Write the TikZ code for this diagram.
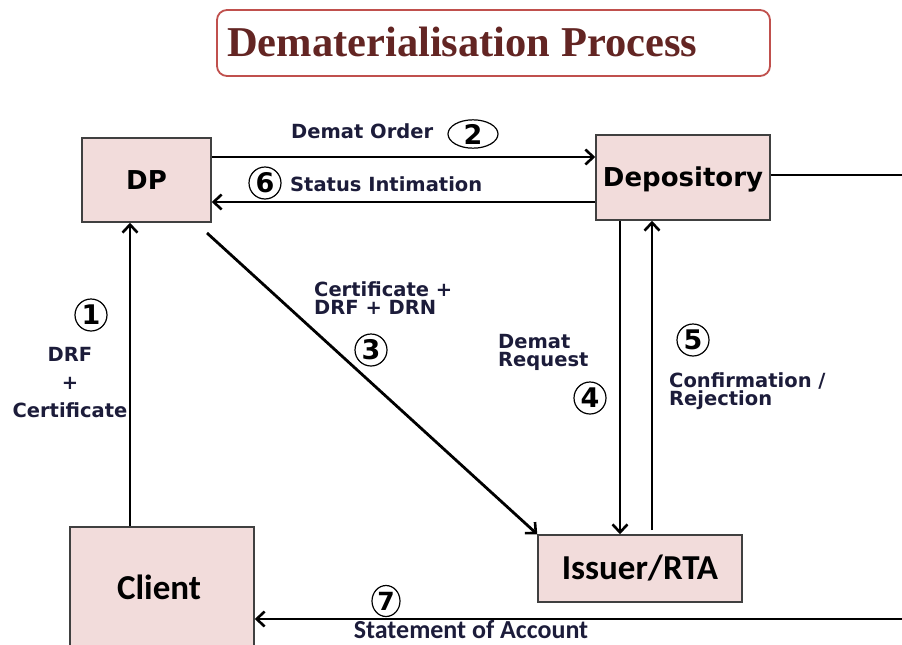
\documentclass[tikz,border=0pt]{standalone}
\usepackage{fontspec}
\setmainfont{DejaVu Sans}
\newfontfamily\titlefont{Liberation Serif}
\newfontfamily\calfont{Carlito}
\usetikzlibrary{arrows.meta,shapes.geometric}
\definecolor{boxfill}{HTML}{F2DCDB}
\definecolor{boxline}{HTML}{404040}
\definecolor{titlered}{HTML}{C0504D}
\definecolor{titletext}{HTML}{632523}
\definecolor{labtext}{HTML}{1C1C3A}
\tikzset{
  ent/.style={draw=boxline, line width=1.5pt, fill=boxfill, font=\bfseries\fontsize{26}{28}\selectfont, inner sep=0pt},
  calent/.style={ent, font=\calfont\bfseries\fontsize{35}{35}\selectfont},
  conn/.style={line width=2.8pt, -{Straight Barb[length=8pt,width=15pt,line width=2.6pt]}},
  plain/.style={line width=2.8pt},
  lab/.style={text=labtext, font=\bfseries\fontsize{19.5}{18}\selectfont, inner sep=0pt},
  calab/.style={text=labtext, font=\calfont\bfseries\fontsize{26}{26}\selectfont, inner sep=0pt},
  num/.style={circle, draw, line width=1.2pt, inner sep=0pt, minimum size=32pt, font=\bfseries\fontsize{27}{27}\selectfont},
}
\begin{document}
\begin{tikzpicture}[x=1pt,y=-1pt]
\useasboundingbox (0,0) rectangle (902,645);
% title
\node[draw=titlered, line width=1.8pt, rounded corners=10pt, minimum width=553pt, minimum height=66pt, inner sep=0pt] (title) at (493.5,43) {};
\node[text=titletext, font=\titlefont\bfseries\fontsize{42.5}{42.5}\selectfont, anchor=west, inner sep=0pt] (titletxt) at (227,42) {Dematerialisation Process};
% entities
\node[ent, minimum width=129pt, minimum height=84pt] (dp) at (146.5,180) {DP};
\node[ent, minimum width=174pt, minimum height=85pt, text depth=2pt] (dep) at (683,177.5) {Depository};
\node[calent, minimum width=204pt, minimum height=67pt] (iss) at (640,568.5) {Issuer/RTA};
\node[calent, minimum width=184pt, minimum height=134pt] (cli) at (162,594) {};
\node[font=\calfont\bfseries\fontsize{35}{35}\selectfont, inner sep=0pt] (clitxt) at (159,587) {Client};
% free ends
\coordinate (re1) at (902,175);
\coordinate (re2) at (902,619);
\coordinate (dpo) at (207,233);
\coordinate (isso) at (652,530);
% connectors
\draw[conn] (dp.east |- 0,157) -- (dep.west |- 0,157);
\draw[conn] (dep.west |- 0,202) -- (dp.east |- 0,202);
\draw[plain] (dep.east |- re1) -- (re1);
\draw[conn] (cli.north -| 130,0) -- (dp.south -| 130,0);
\draw[conn] (dpo) -- (iss.north west);
\draw[conn] (dep.south -| 620,0) -- (iss.north -| 620,0);
\draw[conn] (isso) -- (dep.south -| isso);
\draw[conn] (re2) -- (cli.east |- re2);
% labels
\node[lab, anchor=west] (l2) at (291,131) {Demat Order};
\node[ellipse, draw, line width=1.2pt, minimum width=50pt, minimum height=25pt, inner sep=0pt, font=\bfseries\fontsize{27}{27}\selectfont] (n2) at (473,134) {2};
\node[num] (n6) at (265,183) {6};
\node[lab, anchor=west] (l6) at (290,184) {Status Intimation};
\node[num] (n1) at (91,315) {1};
\node[lab, align=center] (l1) at (70,383) {DRF\\[10pt]+\\[10pt]Certificate};
\node[lab, align=left, anchor=west] (l3) at (314,298) {Certificate +\\DRF + DRN};
\node[num] (n3) at (371,350) {3};
\node[lab, align=left, anchor=west] (l4) at (498,352) {Demat\\Request};
\node[num] (n4) at (590,398) {4};
\node[num] (n5) at (693,340) {5};
\node[lab, align=left, anchor=west] (l5) at (669,391) {Confirmation /\\Rejection};
\node[ellipse, draw, line width=1.2pt, minimum width=28pt, minimum height=31pt, inner sep=0pt, font=\bfseries\fontsize{25}{25}\selectfont] (n7) at (386,601) {7};
\node[calab] (l7) at (471,630) {Statement of Account};
\end{tikzpicture}
\end{document}
